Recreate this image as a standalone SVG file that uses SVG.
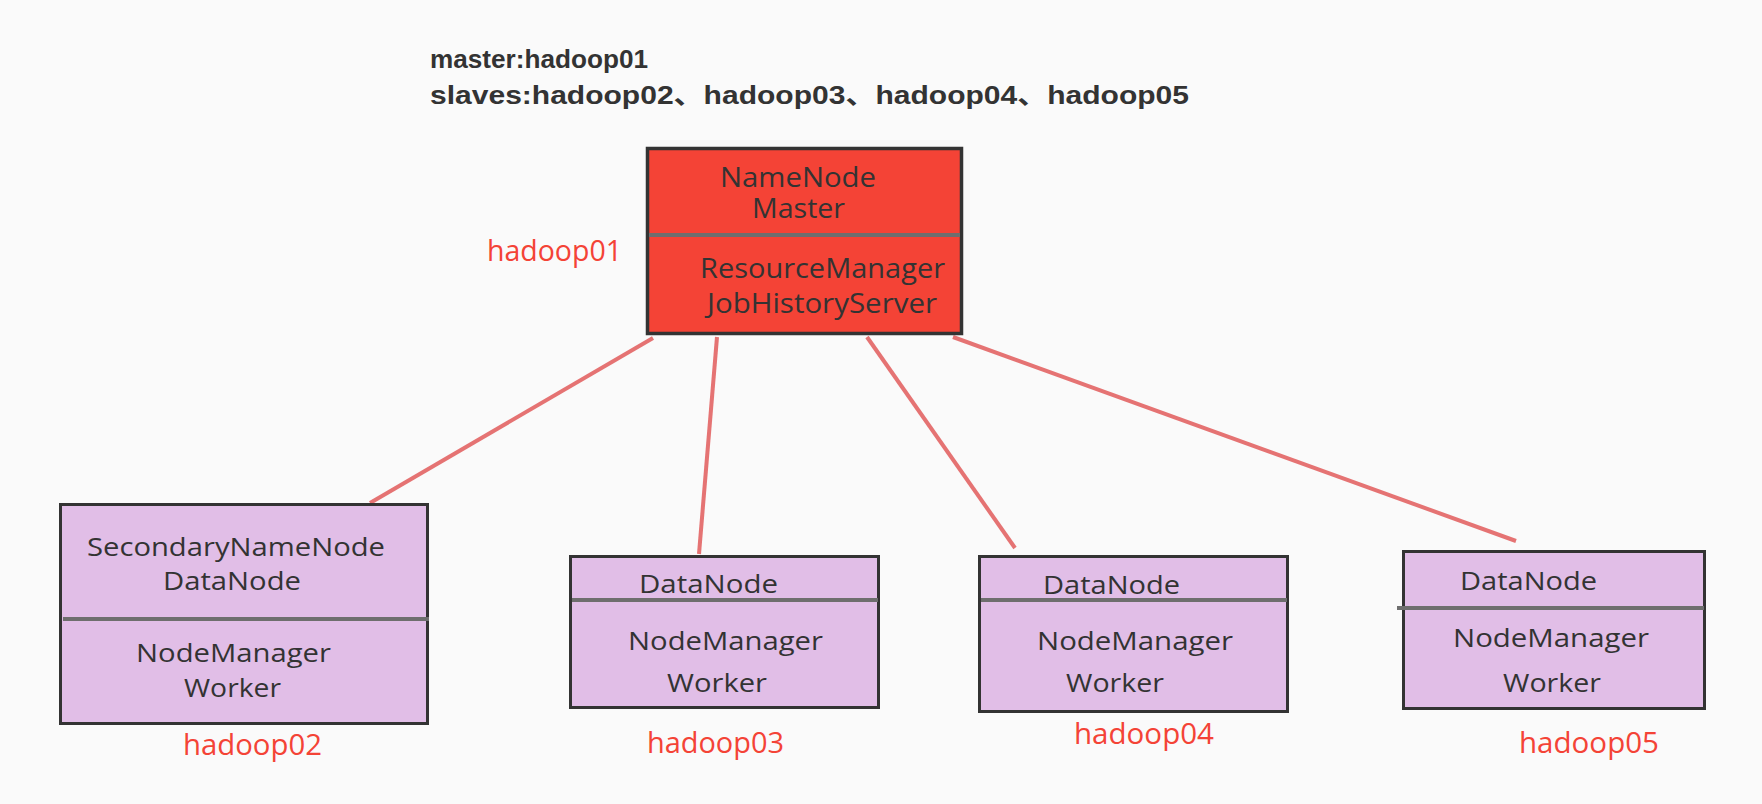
<svg xmlns="http://www.w3.org/2000/svg" width="1762" height="804" viewBox="0 0 1762 804">
<style>
.bg{fill:#fafafa}
.master{fill:#f44336;stroke:#333;stroke-width:3.5}
.worker{fill:#e1bee7;stroke:#333;stroke-width:3}
.div{stroke:#6e6e6e;stroke-width:4}
.t{font-family:"Open Sans","Liberation Sans",sans-serif;fill:#333;font-size:26px}
.tm{font-size:28px}
.lbl{font-family:"Open Sans","Liberation Sans",sans-serif;fill:#f44336;font-size:29px}
.hdr{font-family:"Liberation Sans","Noto Sans CJK SC",sans-serif;fill:#333;font-size:26px;font-weight:bold}
.conn{stroke:#e57373;stroke-width:4;fill:none}
</style>
<rect class="bg" x="0" y="0" width="1762" height="804"/>
<g id="header">
<text class="hdr" x="430" y="68" textLength="218" lengthAdjust="spacingAndGlyphs">master:hadoop01</text>
<text class="hdr" x="430" y="104" textLength="759" lengthAdjust="spacingAndGlyphs">slaves:hadoop02、hadoop03、hadoop04、hadoop05</text>
</g>
<g id="connectors">
<line class="conn" x1="653" y1="338" x2="370" y2="503"/>
<line class="conn" x1="717" y1="337" x2="699" y2="554"/>
<line class="conn" x1="867" y1="337" x2="1015" y2="548"/>
<line class="conn" x1="953" y1="337" x2="1516" y2="541"/>
</g>
<g id="hadoop01">
<rect class="master" x="647.5" y="148.5" width="314" height="185"/>
<line class="div" x1="649" y1="235" x2="960" y2="235"/>
<text class="t tm" x="720" y="187" textLength="156" lengthAdjust="spacingAndGlyphs">NameNode</text>
<text class="t tm" x="752" y="218" textLength="93" lengthAdjust="spacingAndGlyphs">Master</text>
<text class="t tm" x="700" y="278" textLength="245" lengthAdjust="spacingAndGlyphs">ResourceManager</text>
<text class="t tm" x="707" y="313" textLength="230" lengthAdjust="spacingAndGlyphs">JobHistoryServer</text>
<text class="lbl" x="487" y="261" textLength="135" lengthAdjust="spacingAndGlyphs">hadoop01</text>
</g>
<g id="hadoop02">
<rect class="worker" x="60.5" y="504.5" width="367" height="219"/>
<line class="div" x1="63" y1="619" x2="429" y2="619"/>
<text class="t" x="87" y="556" textLength="298" lengthAdjust="spacingAndGlyphs">SecondaryNameNode</text>
<text class="t" x="163" y="590" textLength="138" lengthAdjust="spacingAndGlyphs">DataNode</text>
<text class="t" x="136" y="662" textLength="195" lengthAdjust="spacingAndGlyphs">NodeManager</text>
<text class="t" x="184" y="697" textLength="97" lengthAdjust="spacingAndGlyphs">Worker</text>
<text class="lbl" x="183" y="755" textLength="139" lengthAdjust="spacingAndGlyphs">hadoop02</text>
</g>
<g id="hadoop03">
<rect class="worker" x="570.5" y="556.5" width="308" height="151"/>
<line class="div" x1="572" y1="600" x2="878" y2="600"/>
<text class="t" x="639" y="593" textLength="139" lengthAdjust="spacingAndGlyphs">DataNode</text>
<text class="t" x="628" y="650" textLength="195" lengthAdjust="spacingAndGlyphs">NodeManager</text>
<text class="t" x="667" y="692" textLength="100" lengthAdjust="spacingAndGlyphs">Worker</text>
<text class="lbl" x="647" y="753" textLength="137" lengthAdjust="spacingAndGlyphs">hadoop03</text>
</g>
<g id="hadoop04">
<rect class="worker" x="979.5" y="556.5" width="308" height="155"/>
<line class="div" x1="981" y1="600" x2="1287" y2="600"/>
<text class="t" x="1043" y="594" textLength="137" lengthAdjust="spacingAndGlyphs">DataNode</text>
<text class="t" x="1037" y="650" textLength="196" lengthAdjust="spacingAndGlyphs">NodeManager</text>
<text class="t" x="1066" y="692" textLength="98" lengthAdjust="spacingAndGlyphs">Worker</text>
<text class="lbl" x="1074" y="744" textLength="140" lengthAdjust="spacingAndGlyphs">hadoop04</text>
</g>
<g id="hadoop05">
<rect class="worker" x="1403.5" y="551.5" width="301" height="157"/>
<line class="div" x1="1397" y1="608" x2="1704" y2="608"/>
<text class="t" x="1460" y="590" textLength="137" lengthAdjust="spacingAndGlyphs">DataNode</text>
<text class="t" x="1453" y="647" textLength="196" lengthAdjust="spacingAndGlyphs">NodeManager</text>
<text class="t" x="1503" y="692" textLength="98" lengthAdjust="spacingAndGlyphs">Worker</text>
<text class="lbl" x="1519" y="753" textLength="140" lengthAdjust="spacingAndGlyphs">hadoop05</text>
</g>
</svg>
